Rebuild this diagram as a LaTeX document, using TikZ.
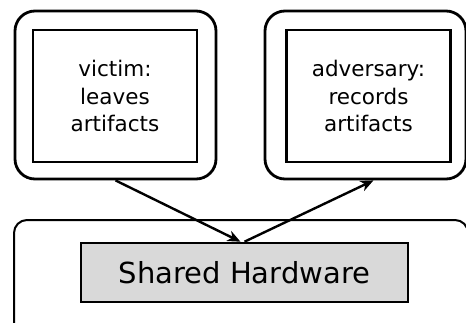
\documentclass[tikz,border=0pt]{standalone}
\usepackage{fontspec}
\setmainfont{DejaVu Sans}
\usetikzlibrary{arrows.meta}
\tikzset{
  outerbox/.style={draw=black, line width=2.8pt, rounded corners=20pt, minimum width=201pt, minimum height=168pt, inner sep=0pt},
  innerbox/.style={draw=black, line width=2.8pt, minimum width=164pt, minimum height=132pt, inner sep=0pt, align=center, font=\fontsize{21.5}{27.5}\selectfont},
  hwbox/.style={draw=black, fill=black!15, line width=2.6pt, minimum width=327pt, minimum height=59pt, inner sep=0pt, font=\fontsize{29}{34}\selectfont},
  flow/.style={line width=2.4pt, -{Stealth[length=13pt,width=11pt,inset=4pt]}},
}
\begin{document}
\begin{tikzpicture}[x=1pt,y=-1pt]
\useasboundingbox (0,0) rectangle (466,322);
\draw[line width=2pt, rounded corners=13pt] (14,220) rectangle (468,340);
\node[hwbox] (sh) at (244.5,272.5) {Shared Hardware};
\node[outerbox] (vout) at (115.5,95) {};
\node[innerbox] (vin) at (115,96) {victim:\\leaves\\artifacts};
\node[outerbox] (aout) at (365.5,95) {};
\node[innerbox] (ain) at (368.5,96) {adversary:\\records\\artifacts};
\draw[flow] (vout.south) -- ([xshift=-4pt]sh.north);
\draw[flow] (sh.north) -- ([xshift=8pt]aout.south);
\end{tikzpicture}
\end{document}
